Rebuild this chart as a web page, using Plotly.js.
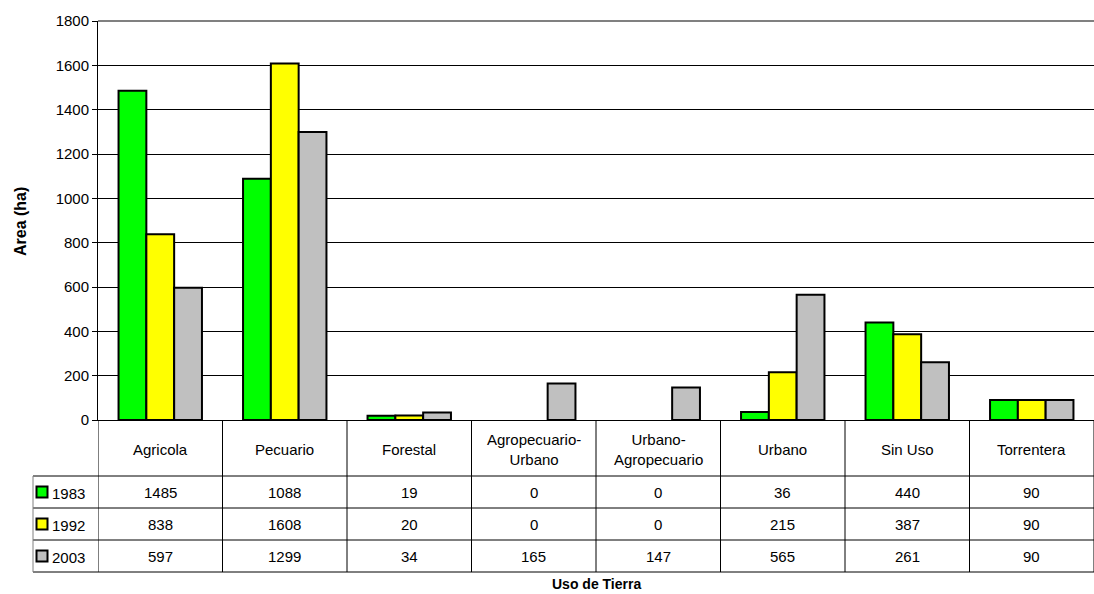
<!DOCTYPE html>
<html><head><meta charset="utf-8">
<script src="https://cdn.plot.ly/plotly-3.0.1.min.js"></script>
<style>html,body{margin:0;padding:0;background:#fff}</style>
</head><body>
<div id="chart" style="width:1094px;height:594px"></div>
<script>
const categories = ["Agricola","Pecuario","Forestal","Agropecuario-<br>Urbano","Urbano-<br>Agropecuario","Urbano","Sin Uso","Torrentera"];
const years = ["1983","1992","2003"];
const v1983 = [1485,1088,19,0,0,36,440,90];
const v1992 = [838,1608,20,0,0,215,387,90];
const v2003 = [597,1299,34,165,147,565,261,90];
const colors = ["#00FF00","#FFFF00","#C0C0C0"];
const series = [v1983, v1992, v2003];

const W=1094,H=594,L=98,R=0,T=21,B=174;
const pw=W-L-R, ph=H-T-B;
const px=x=>(x-L)/pw, py=y=>(H-B-y)/ph;
const font="Liberation Sans, Arial, sans-serif";
const FS=15;

const traces = series.map((s,i)=>({
  type:'bar', x:categories.map((c,j)=>j), y:s.map(v=>v===0?null:v), name:years[i],
  marker:{color:colors[i], line:{color:'#000', width:2}}, hoverinfo:'skip'
}));

const shapes=[], ann=[];
const rowTop=[476,508,540], rowH=32;
[476,508,540,572].forEach(y=>shapes.push({type:'line',xref:'paper',yref:'paper',x0:px(33),x1:1,y0:py(y),y1:py(y),line:{color:'#000',width:1}}));
for(let i=0;i<=categories.length;i++) shapes.push({type:'line',xref:'x',yref:'paper',x0:i-0.5,x1:i-0.5,y0:0,y1:py(572),line:{color:'#000',width:1}});
shapes.push({type:'line',xref:'paper',yref:'paper',x0:px(33),x1:px(33),y0:py(476),y1:py(572),line:{color:'#808080',width:1}});
shapes.push({type:'line',xref:'paper',yref:'paper',x0:0,x1:1,y0:1,y1:1,line:{color:'#808080',width:2}});
categories.forEach((c,j)=>ann.push({xref:'x',yref:'paper',x:j,y:py(449),text:c,showarrow:false,font:{family:font,size:FS,color:'#000'},align:'center',yanchor:'middle'}));
series.forEach((s,i)=>{
  const cy=rowTop[i]+rowH/2;
  shapes.push({type:'rect',xref:'paper',yref:'paper',x0:px(36.5),x1:px(47.5),y0:py(cy-5.5),y1:py(cy+5.5),fillcolor:colors[i],line:{color:'#000',width:2}});
  ann.push({xref:'paper',yref:'paper',x:px(50),y:py(cy+1),text:years[i],showarrow:false,xanchor:'left',yanchor:'middle',font:{family:font,size:FS,color:'#000'}});
  s.forEach((v,j)=>ann.push({xref:'x',yref:'paper',x:j,y:py(cy),text:String(v),showarrow:false,yanchor:'middle',font:{family:font,size:FS,color:'#000'}}));
});
ann.push({xref:'paper',yref:'paper',x:px(596),y:py(584),text:'<b>Uso de Tierra</b>',showarrow:false,yanchor:'middle',font:{family:font,size:14,color:'#000'}});
ann.push({xref:'paper',yref:'paper',x:px(20),y:py(222),text:'<b>Area (ha)</b>',textangle:-90,showarrow:false,xanchor:'center',yanchor:'middle',font:{family:font,size:16,color:'#000'}});

const layout={
  width:W,height:H,margin:{l:L,r:R,t:T,b:B},
  paper_bgcolor:'#fff',plot_bgcolor:'#fff',
  barmode:'group',bargap:0.33,bargroupgap:0,showlegend:false,
  font:{family:font,size:FS,color:'#000'},
  xaxis:{type:'linear',range:[-0.5,7.5],showticklabels:false,showgrid:false,zeroline:false,showline:true,linecolor:'#000',linewidth:1,ticks:''},
  yaxis:{range:[0,1800],dtick:200,tick0:0,showgrid:true,gridcolor:'#000',gridwidth:1,zeroline:false,showline:true,linecolor:'#000',linewidth:1,ticks:'outside',ticklen:5,tickcolor:'#000',tickfont:{family:font,size:FS}},
  shapes:shapes,annotations:ann
};
Plotly.newPlot('chart',traces,layout,{displayModeBar:false,staticPlot:true});
</script>
</body></html>
